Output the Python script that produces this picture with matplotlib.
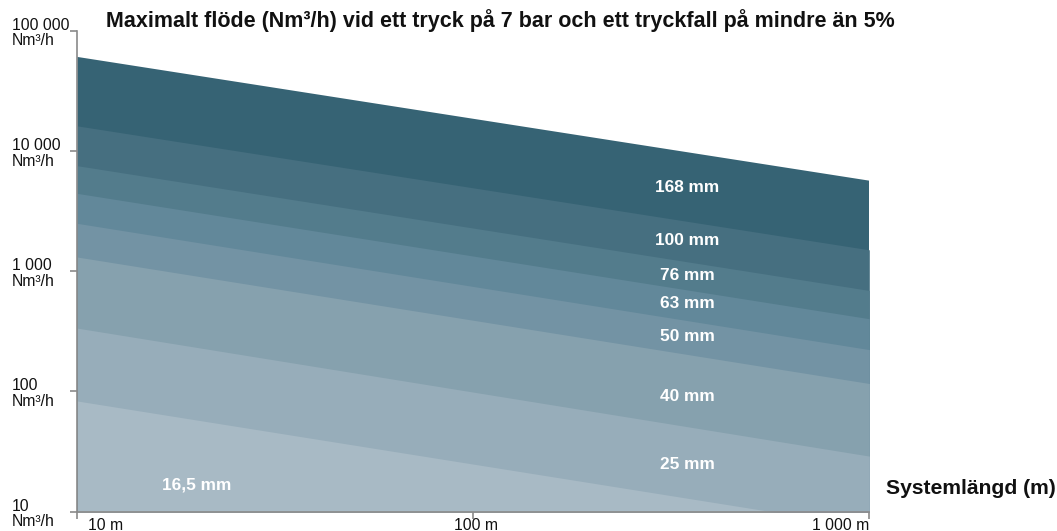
import matplotlib
matplotlib.use("Agg")
import matplotlib.pyplot as plt
import matplotlib.transforms as mtransforms

plt.rcParams['font.family'] = ['Liberation Sans', 'DejaVu Sans']

# Data: system length (m) and max flow (Nm3/h) at both ends, per pipe size
lengths = [10, 1000]
sizes = ["168 mm", "100 mm", "76 mm", "63 mm", "50 mm", "40 mm", "25 mm", "16,5 mm"]
flow_168 = [60300, 5640]
flow_100 = [16100, 1500]
flow_76 = [7510, 689]
flow_63 = [4420, 401]
flow_50 = [2490, 222]
flow_40 = [1307, 116]
flow_25 = [335, 28.9]
flow_16_5 = [83, 7.4]
flows = [flow_168, flow_100, flow_76, flow_63, flow_50, flow_40, flow_25, flow_16_5]

colors = ["#366374", "#466f80", "#537c8c", "#62889a", "#7393a4", "#86a1ae", "#97adba", "#a8bac5"]

# label positions (data coords)
label_x = [347, 347, 347, 347, 347, 347, 347, 20]
label_y = [4930, 1790, 918, 537, 286, 91, 24.8, 16.6]

ytick_vals = [10, 100, 1000, 10000, 100000]
ytick_text = ["10", "100", "1 000", "10 000", "100 000"]
xtick_vals = [10, 100, 1000]
xtick_text = ["10 m", "100 m", "1 000 m"]

title = "Maximalt flöde (Nm³/h) vid ett tryck på 7 bar och ett tryckfall på mindre än 5%"
xlabel = "Systemlängd (m)"

W, H = 1057, 531
fig = plt.figure(figsize=(W / 100, H / 100), dpi=100)
ax = fig.add_axes([77.3 / W, 1 - 511.5 / H, (869.3 - 77.3) / W, (511.5 - 30.5) / H])
ax.set_xscale("log")
ax.set_yscale("log")
ax.set_xlim(10, 1000)
ax.set_ylim(10, 100000)

for f, c in zip(flows, colors):
    ax.fill_between(lengths, [1, 1], f, color=c, linewidth=0)

for s, lx, ly in zip(sizes, label_x, label_y):
    ax.text(lx, ly, s, color="white", fontsize=12.4, fontweight="bold", ha="center", va="center")

for sp in ["top", "right"]:
    ax.spines[sp].set_visible(False)
for sp in ["left", "bottom"]:
    ax.spines[sp].set_color("#8a8a8a")
    ax.spines[sp].set_linewidth(1.2)

ax.set_yticks(ytick_vals)
ax.set_yticklabels([])
ax.set_xticks(xtick_vals)
ax.set_xticklabels([])
ax.minorticks_off()
ax.tick_params(axis="both", which="major", length=5, color="#8a8a8a", width=1.2)

ytrans = mtransforms.blended_transform_factory(fig.transFigure, ax.transData)
yoff = mtransforms.ScaledTranslation(0, -2.5 / 100, fig.dpi_scale_trans)
for v, t in zip(ytick_vals, ytick_text):
    ax.text(12 / W, v, t + "\nNm³/h", transform=ytrans + yoff, ha="left", va="center",
            fontsize=11.3, linespacing=1.05, color="#111111")

xtrans = mtransforms.blended_transform_factory(ax.transData, fig.transFigure)
xha = ["left", "center", "right"]
xoff = [1.064, 1.018, 1.0]
for v, t, h, o in zip(xtick_vals, xtick_text, xha, xoff):
    ax.text(v * o, 1 - 525 / H, t, transform=xtrans, ha=h, va="center", fontsize=11.3, color="#111111")

fig.text(106 / W, 1 - 21 / H, title, ha="left", va="center", fontsize=15.5, fontweight="bold", color="#111111")
fig.text(886 / W, 1 - 488 / H, xlabel, ha="left", va="center", fontsize=15.2, fontweight="bold", color="#111111")

fig.savefig("out.png", dpi=100)
